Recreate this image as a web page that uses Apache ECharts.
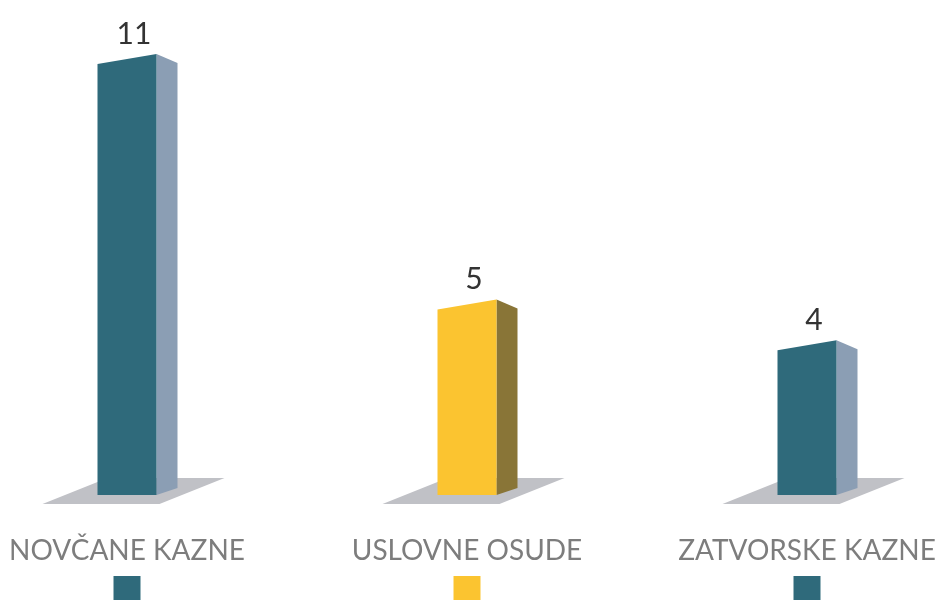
<!DOCTYPE html>
<html>
<head>
<meta charset="utf-8">
<script src="https://cdn.jsdelivr.net/npm/echarts@6.0.0/dist/echarts.min.js"></script>
<style>
  html, body { margin: 0; padding: 0; background: #fff; }
  #chart { width: 941px; height: 600px; }
</style>
</head>
<body>
<div id="chart"></div>
<script>
// podaci
const categories = ['NOVČANE KAZNE', 'USLOVNE OSUDE', 'ZATVORSKE KAZNE'];
const values = [11, 5, 4];

// boje (prednja strana, bočna strana)
const frontColors = ['#2f6a7b', '#fbc430', '#2f6a7b'];
const sideColors = ['#8b9eb4', '#897537', '#8b9eb4'];
const floorColor = '#c0c1c6';

const chart = echarts.init(document.getElementById('chart'));

// crta "3D" stubac: pod, prednja i bočna strana
function renderBar(params, api) {
    const idx = params.dataIndex;
    const top = api.coord([api.value(0), api.value(1)]);
    const base = api.coord([api.value(0), 0])[1] - 14; // pod je malo iznad nule
    const cx = top[0];
    const y = top[1];
    const xL = cx - 29.5;
    const xR = cx + 29.5;
    return {
        type: 'group',
        children: [
            {
                type: 'polygon',
                shape: { points: [[xL - 55, base + 9], [xR + 3, base + 9], [xR + 68, base - 17], [xL + 10, base - 17]] },
                style: { fill: floorColor }
            },
            {
                type: 'polygon',
                shape: { points: [[xR, y - 5], [xR + 21, y + 4], [xR + 21, base - 7], [xR, base]] },
                style: { fill: sideColors[idx] }
            },
            {
                type: 'polygon',
                shape: { points: [[xL, y + 5], [xR, y - 5], [xR, base], [xL, base]] },
                style: { fill: frontColors[idx] }
            },
            {
                type: 'text',
                x: cx + 7,
                y: y - 25,
                style: {
                    text: String(api.value(1)),
                    fill: '#333',
                    font: '400 30px Lato',
                    align: 'center',
                    verticalAlign: 'middle'
                }
            }
        ]
    };
}

const rich = {
    n: { fontFamily: 'Lato', fontSize: 28, color: '#7d7d7d', lineHeight: 34 }
};
frontColors.forEach((c, i) => {
    rich['s' + i] = { backgroundColor: c, width: 27, height: 24, lineHeight: 40 };
});

chart.setOption({
    animation: false,
    grid: { left: 127, right: 134, top: 18, bottom: 90 },
    xAxis: {
        type: 'category',
        data: categories,
        boundaryGap: false,
        axisLine: { show: false },
        axisTick: { show: false },
        axisLabel: {
            interval: 0,
            margin: 25,
            formatter: function (val, i) {
                return '{n|' + val + '}\n{s' + i + '|}';
            },
            rich: rich
        }
    },
    yAxis: {
        type: 'value',
        min: 0,
        max: 12,
        show: false
    },
    series: [{
        type: 'custom',
        renderItem: renderBar,
        data: categories.map((c, i) => [i, values[i]])
    }]
});
</script>
</body>
</html>
